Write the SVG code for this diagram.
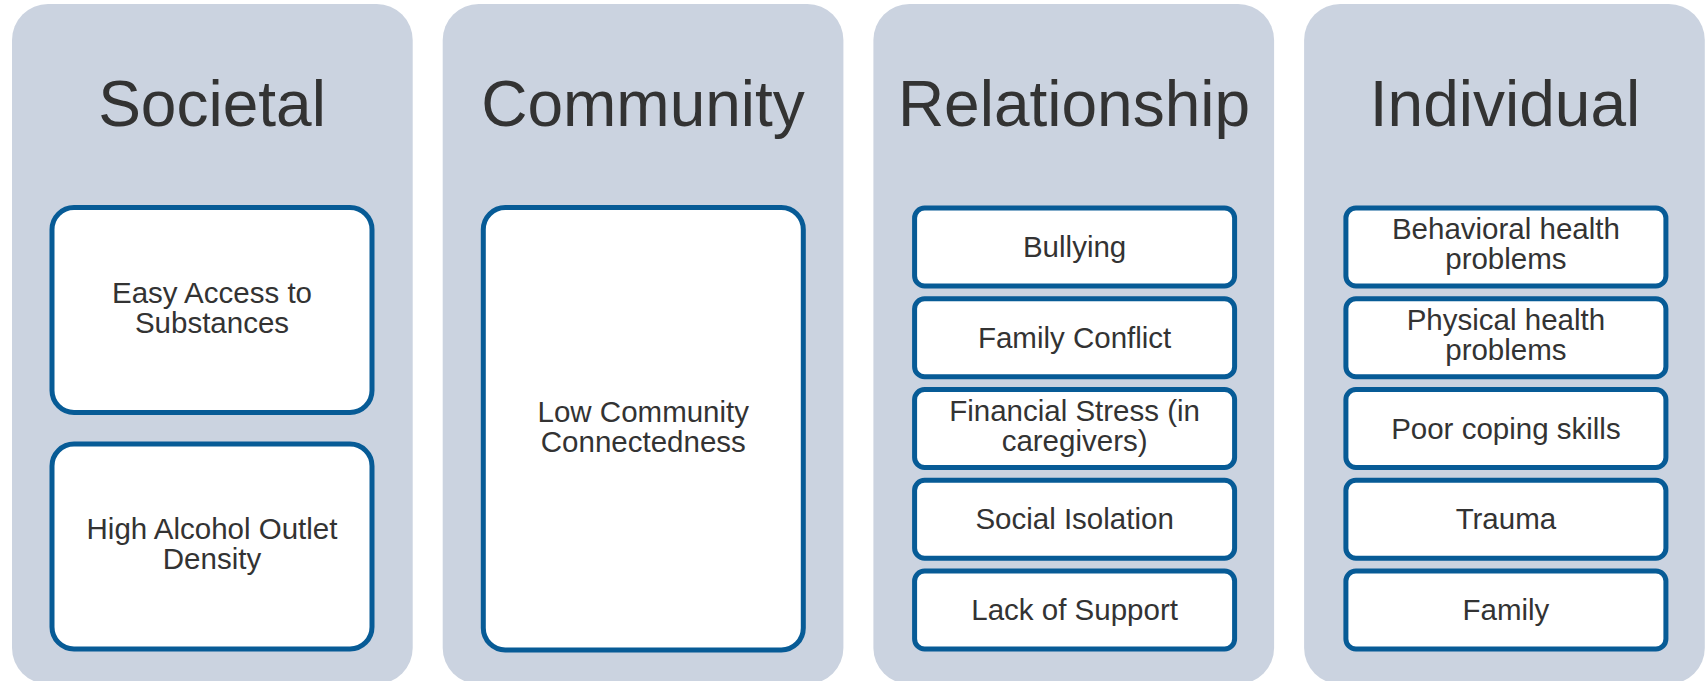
<svg xmlns="http://www.w3.org/2000/svg" width="1708" height="681" viewBox="0 0 1708 681">
  <style>
    .panel { fill: #cbd3e0; }
    .title { font-family: "Liberation Sans", Arial, sans-serif; font-size: 64px; fill: #333333; text-anchor: middle; }
    .box { fill: #ffffff; stroke: #075b96; stroke-width: 5; }
    .label { font-family: "Liberation Sans", Arial, sans-serif; font-size: 29.5px; fill: #333333; text-anchor: middle; }
  </style>
  <rect width="1708" height="681" fill="#ffffff"/>

  <!-- Societal -->
  <g id="societal">
    <rect class="panel" x="12" y="4" width="400.7" height="680" rx="36"/>
    <text class="title" x="212" y="126">Societal</text>
    <g id="easy-access">
      <rect class="box" x="52" y="207.5" width="320" height="205" rx="22"/>
      <text class="label" x="212" y="302.5">Easy Access to</text>
      <text class="label" x="212" y="332.5">Substances</text>
    </g>
    <g id="alcohol-outlet">
      <rect class="box" x="52" y="444" width="320" height="205" rx="22"/>
      <text class="label" x="212" y="539">High Alcohol Outlet</text>
      <text class="label" x="212" y="569">Density</text>
    </g>
  </g>

  <!-- Community -->
  <g id="community">
    <rect class="panel" x="442.7" y="4" width="400.7" height="680" rx="36"/>
    <text class="title" x="643" y="126">Community</text>
    <g id="connectedness">
      <rect class="box" x="483.3" y="207.5" width="320" height="442.5" rx="22"/>
      <text class="label" x="643.3" y="421.5">Low Community</text>
      <text class="label" x="643.3" y="451.5">Connectedness</text>
    </g>
  </g>

  <!-- Relationship -->
  <g id="relationship">
    <rect class="panel" x="873.4" y="4" width="400.7" height="680" rx="36"/>
    <text class="title" x="1074" y="126">Relationship</text>
    <g id="bullying">
      <rect class="box" x="914.6" y="208" width="320" height="78" rx="10"/>
      <text class="label" x="1074.6" y="257">Bullying</text>
    </g>
    <g id="family-conflict">
      <rect class="box" x="914.6" y="298.75" width="320" height="78" rx="10"/>
      <text class="label" x="1074.6" y="347.75">Family Conflict</text>
    </g>
    <g id="financial-stress">
      <rect class="box" x="914.6" y="389.5" width="320" height="78" rx="10"/>
      <text class="label" x="1074.6" y="420.5">Financial Stress (in</text>
      <text class="label" x="1074.6" y="450.5">caregivers)</text>
    </g>
    <g id="social-isolation">
      <rect class="box" x="914.6" y="480.25" width="320" height="78" rx="10"/>
      <text class="label" x="1074.6" y="529.25">Social Isolation</text>
    </g>
    <g id="lack-of-support">
      <rect class="box" x="914.6" y="571" width="320" height="78" rx="10"/>
      <text class="label" x="1074.6" y="620">Lack of Support</text>
    </g>
  </g>

  <!-- Individual -->
  <g id="individual">
    <rect class="panel" x="1304.1" y="4" width="400.7" height="680" rx="36"/>
    <text class="title" x="1505" y="126">Individual</text>
    <g id="behavioral-health">
      <rect class="box" x="1345.9" y="208" width="320" height="78" rx="10"/>
      <text class="label" x="1505.9" y="239">Behavioral health</text>
      <text class="label" x="1505.9" y="269">problems</text>
    </g>
    <g id="physical-health">
      <rect class="box" x="1345.9" y="298.75" width="320" height="78" rx="10"/>
      <text class="label" x="1505.9" y="329.75">Physical health</text>
      <text class="label" x="1505.9" y="359.75">problems</text>
    </g>
    <g id="coping-skills">
      <rect class="box" x="1345.9" y="389.5" width="320" height="78" rx="10"/>
      <text class="label" x="1505.9" y="438.5">Poor coping skills</text>
    </g>
    <g id="trauma">
      <rect class="box" x="1345.9" y="480.25" width="320" height="78" rx="10"/>
      <text class="label" x="1505.9" y="529.25">Trauma</text>
    </g>
    <g id="family">
      <rect class="box" x="1345.9" y="571" width="320" height="78" rx="10"/>
      <text class="label" x="1505.9" y="620">Family</text>
    </g>
  </g>

  <!-- no connectors are drawn between the columns -->
  <g id="connectors"/>
</svg>
